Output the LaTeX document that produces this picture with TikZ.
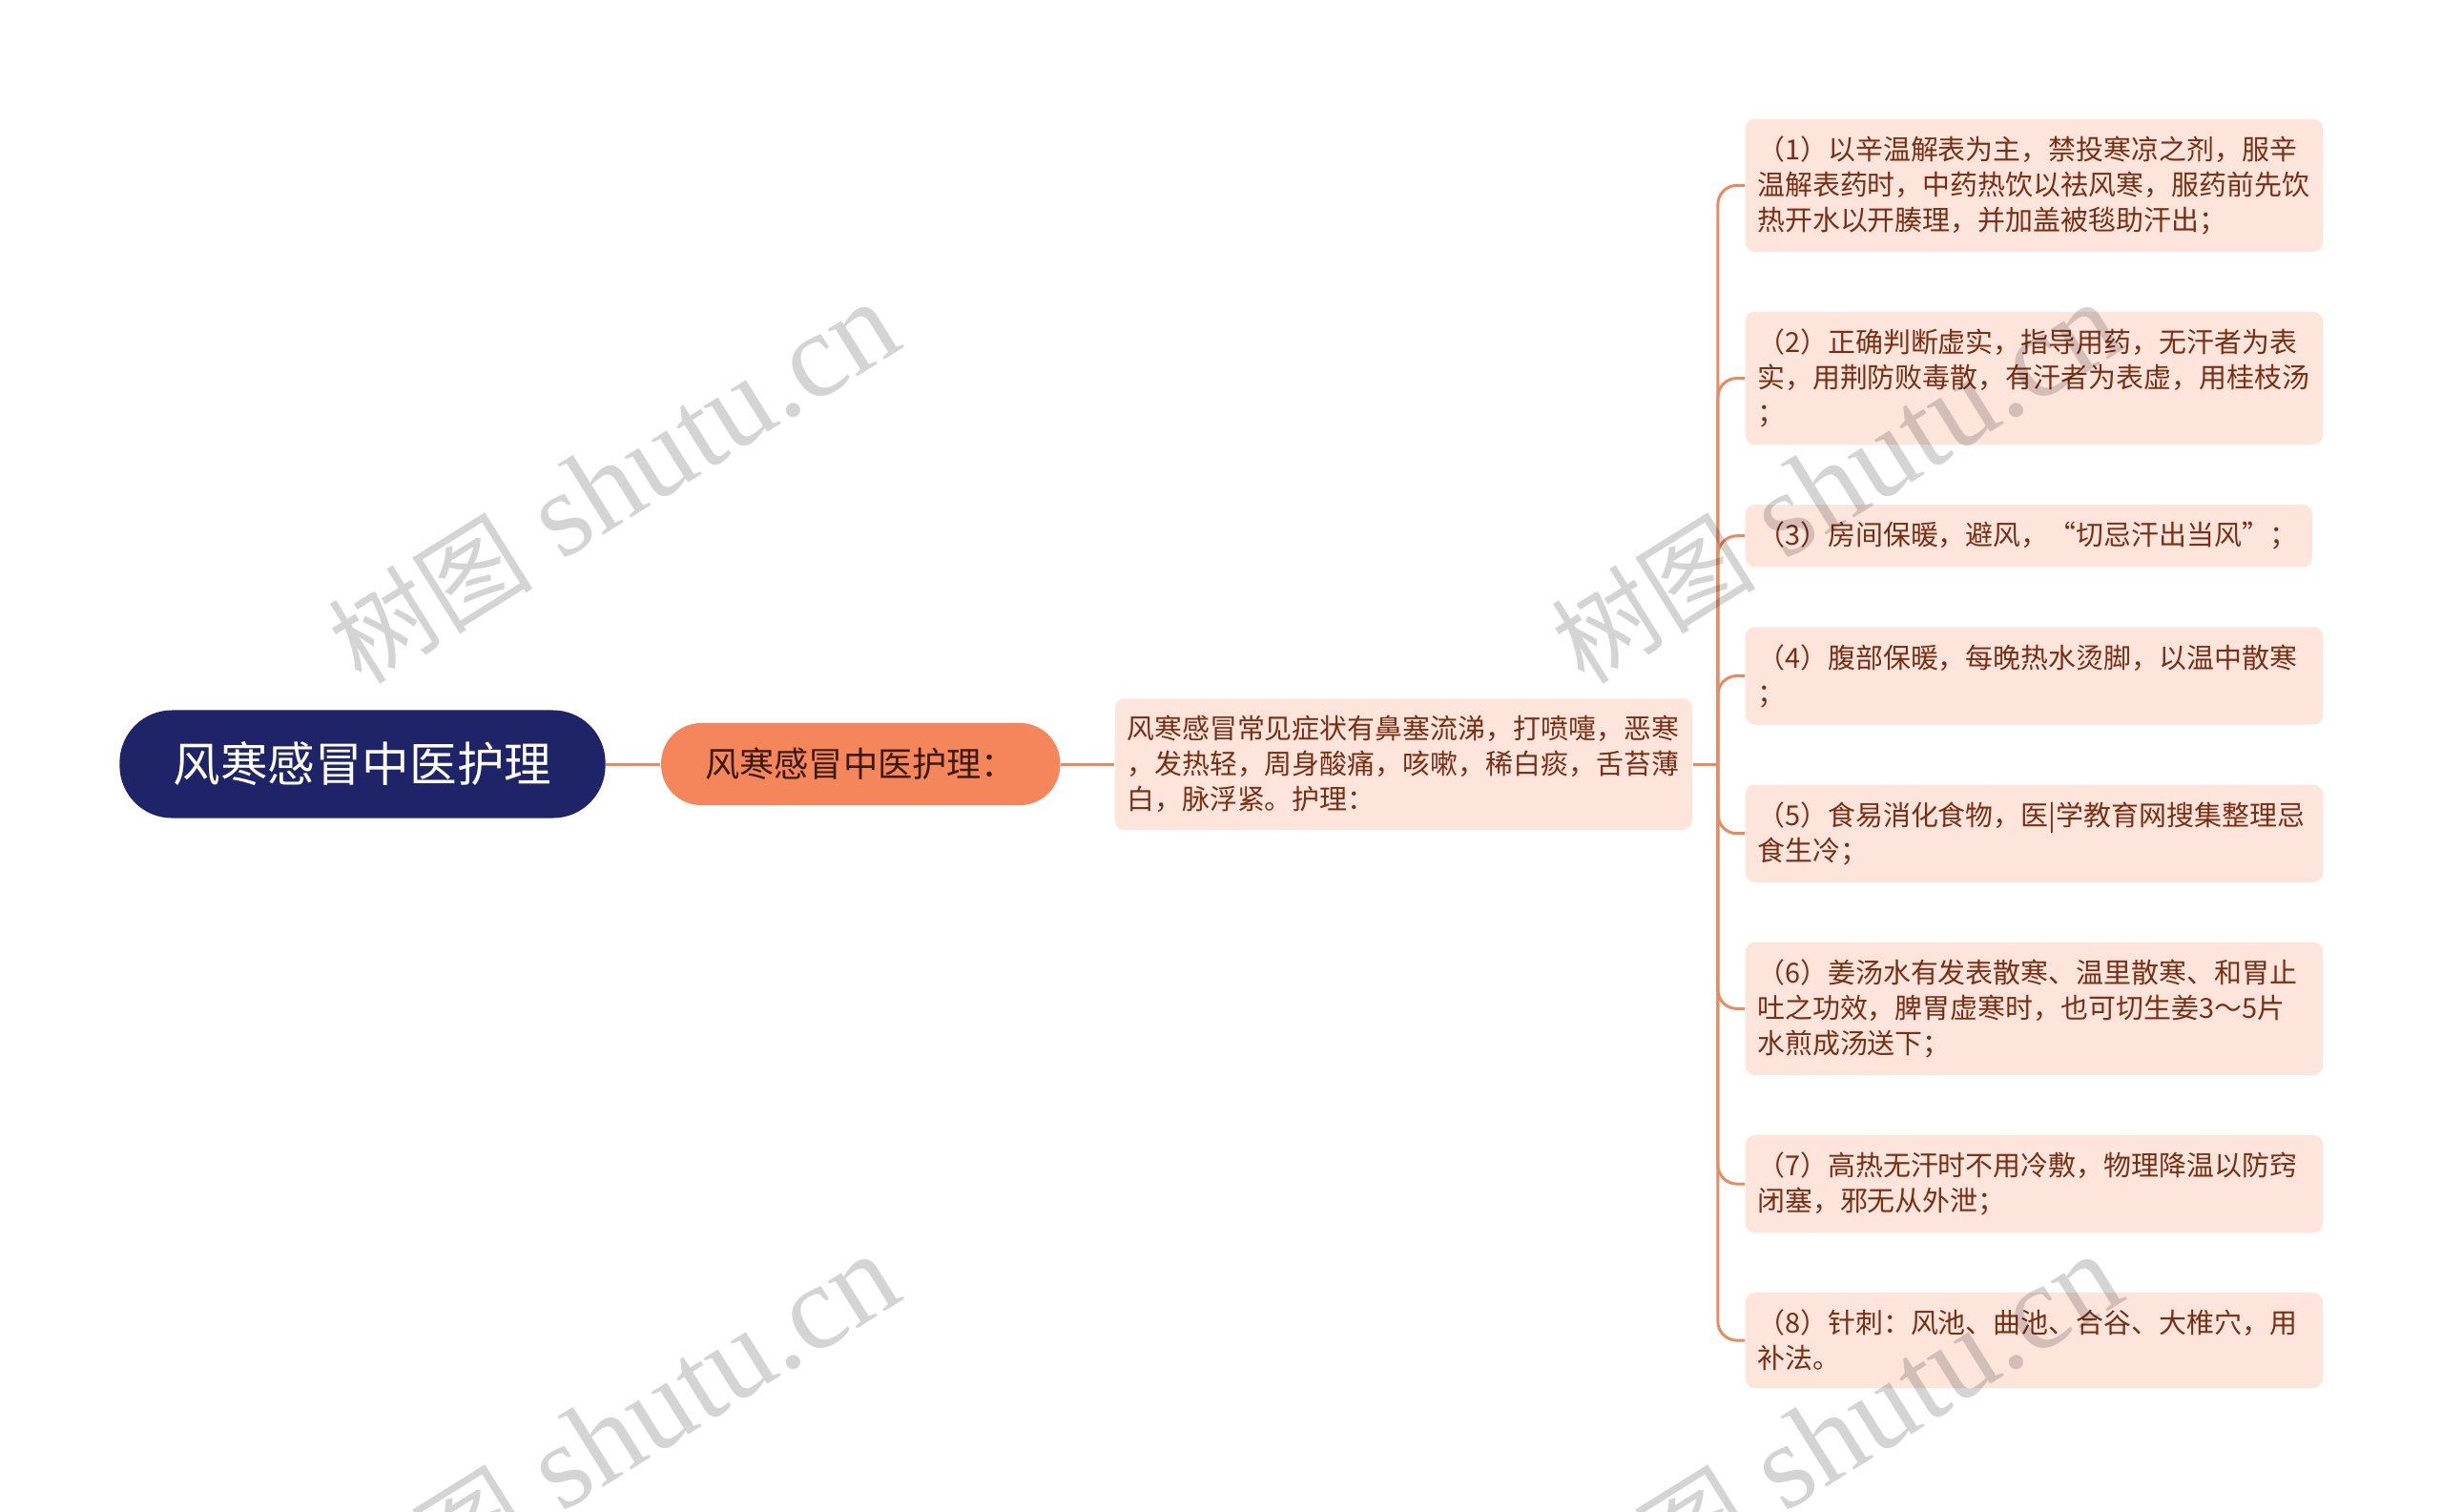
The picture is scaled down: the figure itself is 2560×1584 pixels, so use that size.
\documentclass[tikz,border=0pt]{standalone}
\usepackage{fontspec}
\setmainfont{Noto Sans CJK SC}
\newfontfamily\wmlatin{Liberation Serif}
\usetikzlibrary{positioning}
\definecolor{navy}{HTML}{1F2468}
\definecolor{coral}{HTML}{F5865C}
\definecolor{blush}{HTML}{FDE5DC}
\definecolor{rust}{HTML}{7A2E14}
\definecolor{linkc}{HTML}{EC8A5F}
\definecolor{ink}{HTML}{3B1A0E}

\begin{document}
\begin{tikzpicture}[x=0.01cm, y=-0.01cm, node distance=0.614cm]
\tikzset{
  rootbox/.style={rectangle, rounded corners=0.55cm, fill=navy, text=white, minimum width=5.09cm, minimum height=1.13cm, font=\fontsize{14.1}{17}\selectfont},
  subbox/.style={rectangle, rounded corners=0.42cm, fill=coral, text=ink, minimum width=4.18cm, minimum height=0.86cm, font=\fontsize{10.3}{12}\selectfont},
  leafbox/.style={rectangle, rounded corners=0.1cm, fill=blush, text=rust, align=left, text width=5.8cm, inner xsep=0.125cm, inner ysep=0.18cm, font=\fontsize{8.23}{10.5}\selectfont},
  link/.style={draw=linkc, line width=0.03cm},
  wm/.style={rotate=32, anchor=base west, text=black, text opacity=0.17, inner sep=0pt},
}
\useasboundingbox (0,0) rectangle (2560,1584);
\clip (0,0) rectangle (2560,1584);
\fill[white] (0,0) rectangle (2560,1584);

\node[rootbox] (root) at (380,801) {风寒感冒中医护理};
\node[subbox, right=0.57cm of root] (sub) {风寒感冒中医护理：};
\node[leafbox, right=0.56cm of sub] (desc) {风寒感冒常见症状有鼻塞流涕，打喷嚏，恶寒\\，发热轻，周身酸痛，咳嗽，稀白痰，舌苔薄\\白，脉浮紧。护理：};

\node[leafbox, anchor=north west] (l1) at (1829,124) {（1）以辛温解表为主，禁投寒凉之剂，服辛\\温解表药时，中药热饮以祛风寒，服药前先饮\\热开水以开腠理，并加盖被毯助汗出；};
\node[leafbox, below=of l1.south west, anchor=north west] (l2) {（2）正确判断虚实，指导用药，无汗者为表\\实，用荆防败毒散，有汗者为表虚，用桂枝汤\\；};
\node[leafbox, text width=5.69cm, below=of l2.south west, anchor=north west] (l3) {（3）房间保暖，避风，“切忌汗出当风”；};
\node[leafbox, below=of l3.south west, anchor=north west] (l4) {（4）腹部保暖，每晚热水烫脚，以温中散寒\\；};
\node[leafbox, below=of l4.south west, anchor=north west] (l5) {（5）食易消化食物，医|学教育网搜集整理忌\\食生冷；};
\node[leafbox, below=of l5.south west, anchor=north west] (l6) {（6）姜汤水有发表散寒、温里散寒、和胃止\\吐之功效，脾胃虚寒时，也可切生姜3～5片\\水煎成汤送下；};
\node[leafbox, below=of l6.south west, anchor=north west] (l7) {（7）高热无汗时不用冷敷，物理降温以防窍\\闭塞，邪无从外泄；};
\node[leafbox, below=of l7.south west, anchor=north west] (l8) {（8）针刺：风池、曲池、合谷、大椎穴，用\\补法。};

\draw[link] (root) -- (sub);
\draw[link] (sub) -- (desc);
\coordinate[right=0.26cm of desc.east] (fork);
\draw[link] (desc) -- (fork);
\draw[link, rounded corners=0.2cm] (fork) |- (l1.west);
\draw[link, rounded corners=0.2cm] (fork) |- (l2.west);
\draw[link, rounded corners=0.2cm] (fork) |- (l3.west);
\draw[link, rounded corners=0.2cm] (fork) |- (l4.west);
\draw[link, rounded corners=0.2cm] (fork) |- (l5.west);
\draw[link, rounded corners=0.2cm] (fork) |- (l6.west);
\draw[link, rounded corners=0.2cm] (fork) |- (l7.west);
\draw[link, rounded corners=0.2cm] (fork) |- (l8.west);

\node[wm] (wm1) at (379,720) {\fontsize{30.6}{31}\selectfont 树图\wmlatin\fontsize{36}{36}\selectfont\ shutu.cn};
\node[wm] (wm2) at (1661,720) {\fontsize{30.6}{31}\selectfont 树图\wmlatin\fontsize{36}{36}\selectfont\ shutu.cn};
\node[wm] (wm3) at (379,1718) {\fontsize{30.6}{31}\selectfont 树图\wmlatin\fontsize{36}{36}\selectfont\ shutu.cn};
\node[wm] (wm4) at (1661,1718) {\fontsize{30.6}{31}\selectfont 树图\wmlatin\fontsize{36}{36}\selectfont\ shutu.cn};
\end{tikzpicture}
\end{document}
